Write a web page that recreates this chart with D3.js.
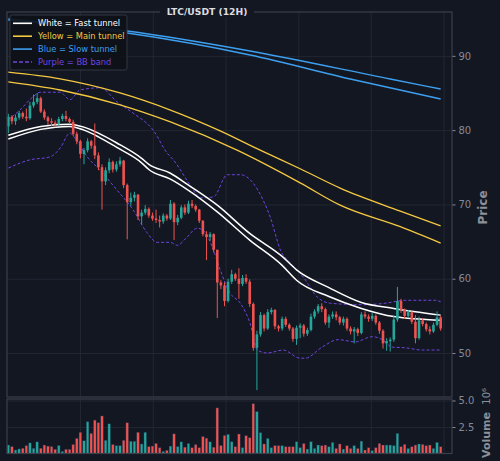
<!DOCTYPE html>
<html>
<head>
<meta charset="utf-8">
<script src="https://cdn.jsdelivr.net/npm/d3@7"></script>
<style>
  html, body { margin: 0; padding: 0; background: #131722; }
  svg { display: block; font-family: "DejaVu Sans", sans-serif; }
</style>
</head>
<body>
<svg id="chart"></svg>
<script>
// LTC/USDT 12H candles (open of each candle = previous close)
const firstOpen = 80.5;
const closes = [
  81.8, 81.2, 81.7, 82.3, 81.8, 81.6, 83.3, 83.8, 84.3, 82.5,
  81.7, 81.2, 81.0, 80.8, 81.5, 81.9, 81.5, 81.1, 79.5, 78.5,
  76.8, 77.3, 78.5, 77.9, 76.6, 75.0, 73.1, 74.6, 75.7, 74.7,
  75.4, 75.9, 72.6, 70.3, 70.9, 71.3, 68.4, 68.9, 69.4, 68.5,
  68.1, 67.9, 67.7, 68.5, 68.1, 70.1, 67.6, 68.2, 69.6, 68.9,
  70.1, 69.8, 69.3, 67.8, 66.0, 65.6, 66.0, 63.9, 59.5, 59.1,
  57.0, 59.6, 60.6, 60.0, 59.3, 60.1, 59.6, 56.6, 50.7, 52.5,
  55.1, 53.3, 55.5, 55.8, 53.6, 53.3, 54.6, 53.8, 53.3, 51.9,
  53.4, 53.7, 52.6, 53.1, 54.9, 55.6, 56.3, 55.9, 54.1, 54.9,
  55.2, 54.8, 54.1, 54.6, 53.3, 52.9, 53.2, 52.7, 55.2, 54.9,
  54.6, 55.0, 54.1, 53.0, 51.3, 51.6, 51.8, 54.5, 57.0, 55.8,
  55.0, 55.5, 54.2, 52.0, 54.4, 53.9, 53.2, 52.9, 53.8, 54.8,
  53.3
];
const highs = [
  82.2, 82.0, 82.1, 82.6, 82.5, 82.9, 83.8, 84.8, 85.0, 84.5,
  82.8, 81.9, 81.6, 81.3, 81.8, 82.2, 82.6, 81.7, 81.4, 79.8,
  78.7, 77.6, 78.9, 78.7, 80.9, 77.0, 75.4, 75.0, 76.2, 75.9,
  75.8, 76.4, 76.0, 72.8, 71.6, 71.7, 71.4, 69.3, 69.9, 69.6,
  68.9, 69.3, 68.5, 68.8, 68.7, 70.6, 70.3, 68.6, 69.9, 70.0,
  70.5, 70.6, 70.0, 69.4, 67.9, 66.4, 66.3, 66.1, 63.9, 59.8,
  59.5, 60.0, 61.2, 60.8, 61.4, 60.5, 60.6, 59.9, 56.8, 53.0,
  55.5, 55.3, 55.9, 56.1, 55.9, 53.8, 54.9, 54.9, 54.0, 53.5,
  53.7, 54.0, 53.9, 53.4, 55.3, 55.9, 56.6, 56.7, 56.1, 55.2,
  55.6, 55.6, 55.0, 54.9, 54.8, 53.6, 53.5, 53.4, 55.5, 55.6,
  55.2, 55.4, 55.2, 54.3, 53.2, 52.0, 52.1, 55.0, 58.9, 57.3,
  56.0, 55.8, 55.7, 55.1, 54.9, 54.7, 54.1, 53.6, 54.1, 55.6,
  55.0
];
const lows = [
  79.6, 80.8, 80.7, 81.4, 81.5, 81.2, 81.4, 83.0, 83.5, 82.3,
  81.4, 80.7, 80.5, 80.4, 80.6, 81.2, 81.2, 80.8, 79.2, 78.1,
  76.2, 75.4, 77.0, 77.5, 76.1, 74.6, 69.3, 72.6, 74.2, 74.3,
  74.4, 75.1, 72.2, 65.3, 69.8, 70.4, 67.9, 67.3, 68.6, 68.2,
  67.8, 67.5, 66.9, 67.4, 67.8, 67.9, 65.2, 67.2, 68.0, 68.6,
  68.7, 69.5, 69.0, 67.5, 65.7, 62.5, 65.1, 63.5, 54.7, 58.6,
  56.3, 56.8, 59.3, 59.7, 57.3, 59.0, 59.3, 56.2, 50.3, 45.0,
  52.2, 52.9, 53.1, 55.2, 53.2, 52.9, 53.0, 53.5, 53.0, 51.5,
  51.1, 52.0, 52.2, 52.3, 52.9, 54.6, 55.3, 55.5, 53.8, 53.4,
  54.6, 54.4, 53.8, 53.7, 53.0, 52.5, 51.3, 52.3, 52.5, 54.6,
  54.2, 54.3, 53.8, 52.6, 50.6, 50.3, 50.2, 51.5, 54.2, 55.4,
  54.6, 54.7, 53.9, 51.3, 51.8, 53.6, 52.9, 52.5, 52.7, 53.6,
  53.0
];
// volume, millions
const volumes = [
  0.8, 0.65, 0.33, 0.43, 0.5, 0.74, 1.0, 0.5, 1.1, 0.5,
  0.8, 0.7, 0.65, 0.4, 0.75, 0.2, 0.4, 0.4, 0.85, 1.43,
  2.0, 1.2, 3.0, 1.9, 3.15, 2.9, 3.54, 1.25, 2.8, 0.85,
  0.74, 0.74, 1.25, 2.9, 1.15, 1.15, 2.0, 0.9, 2.0, 0.65,
  0.7, 0.95, 0.55, 0.2, 0.3, 0.7, 1.85, 0.65, 1.1, 0.6,
  0.95, 0.55, 0.85, 0.55, 1.6, 1.45, 1.1, 0.6, 4.3, 0.75,
  1.7, 1.81, 1.11, 0.64, 1.84, 0.55, 1.68, 1.49, 4.7, 3.96,
  1.96, 0.9, 1.43, 0.55, 0.74, 0.74, 0.74, 0.64, 0.64, 0.64,
  1.11, 0.55, 0.95, 0.42, 1.11, 0.48, 0.8, 0.74, 0.8, 0.64,
  1.05, 0.48, 0.9, 0.42, 0.74, 0.48, 0.74, 0.48, 1.17, 0.33,
  0.55, 0.27, 0.55, 0.95, 0.8, 0.8, 0.8, 0.74, 1.9, 0.64,
  0.87, 0.48, 0.64, 0.8, 0.9, 0.87, 0.74, 0.8, 0.48, 1.05,
  0.64
];

// tunnels and bands, sampled at candle index positions
const fastIdx   = [0, 9, 17, 21, 25, 30, 37, 39, 45, 50, 58, 67, 76, 80, 89, 98, 107, 120];
const fastUpper = [79.3, 80.5, 80.8, 80.4, 79.6, 78.3, 76.2, 75.4, 74.2, 72.6, 69.9, 66.1, 63.0, 61.2, 58.8, 56.8, 56.0, 55.1];
const fastLower = [78.8, 80.1, 80.5, 80.0, 79.1, 77.7, 75.6, 74.7, 73.4, 71.9, 69.0, 65.2, 61.8, 59.8, 57.6, 56.0, 54.9, 54.4];

const mainUpIdx  = [0, 14.4, 31, 45, 58.8, 69.9, 81, 92.1, 108.8, 120];
const mainUpper  = [87.8, 86.9, 85.0, 82.7, 79.9, 77.3, 74.8, 72.2, 69.1, 67.1];
const mainLowIdx = [0, 14.4, 31, 45, 63.5, 81, 92.1, 108.8, 120];
const mainLower  = [86.5, 85.4, 83.4, 81.1, 77.3, 72.9, 69.9, 67.0, 64.8];

const slowUpIdx  = [0, 33, 67.1, 106, 120];
const slowUpper  = [94.95, 93.34, 90.65, 86.88, 85.53];
const slowLowIdx = [0, 33, 67.1, 94.9, 120];
const slowLower  = [94.82, 93.07, 90.11, 86.88, 84.19];

const bbUpIdx = [0, 3.2, 6.9, 8.8, 14.4, 17.1, 19.9, 25.5, 30.2, 34.6, 40.2, 44.1, 45.8, 50.5, 53.3, 56.9,
  60.8, 64.4, 67.9, 70.7, 72.7, 75.5, 78.3, 81.9, 85.8, 89.4, 98.3, 104.6, 110.2, 118.5, 120];
const bbUpper = [81.4, 82.7, 84.5, 85.1, 85.1, 84.1, 85.4, 85.7, 83.8, 82.3, 80.0, 76.9, 76.0, 72.6, 70.9, 71.0,
  74.0, 74.0, 72.9, 70.6, 68.3, 63.9, 62.1, 60.2, 57.5, 56.7, 56.5, 56.7, 57.1, 57.1, 56.9];
const bbLowIdx = [0, 6, 11.6, 14.4, 17.1, 18.5, 21.9, 25.5, 30.2, 34.6, 38.5, 41.3, 44.9, 46.9, 49.6, 52.4, 54.1,
  56.9, 58.8, 61.5, 64.4, 67.1, 69.1, 71.9, 76.3, 81, 82.4, 87.1, 91.6, 96.3, 101, 103.8, 106.5, 110.2, 114.9, 120];
const bbLower = [74.9, 76.0, 76.4, 77.6, 79.6, 78.9, 76.4, 74.6, 71.9, 69.3, 66.2, 64.9, 64.9, 64.5, 65.6, 66.8, 66.5,
  63.9, 61.2, 58.1, 56.7, 54.0, 50.4, 50.0, 50.4, 49.3, 49.3, 50.8, 51.8, 51.5, 52.2, 51.8, 50.8, 50.7, 50.4, 50.4];

const priceTicks = [50, 60, 70, 80, 90];
const volumeTicks = [2.5, 5.0];
const gridIdx = [19.9, 40.1, 60.3, 80.5, 100.6, 120.8];

const legendItems = [
  {label: "White = Fast tunnel", color: "#ffffff", dash: null},
  {label: "Yellow = Main tunnel", color: "#f5c842", dash: null},
  {label: "Blue = Slow tunnel", color: "#3d9ff0", dash: null},
  {label: "Purple = BB band", color: "#6f44e0", dash: "4,2"}
];

// Chart dimensions
const width = 500;
const height = 461;
const left = 7, right = 452;
const mainTop = 12, mainBottom = 397;
const volTop = 399, volBottom = 453.5;

const bg = "#131722";
const upColor = "#26a69a";
const downColor = "#ef5350";
const frameColor = "#3a3f4b";
const tickColor = "#858a94";

const candles = closes.map((c, i) => ({
  i: i,
  open: i === 0 ? firstOpen : closes[i - 1],
  close: c,
  high: highs[i],
  low: lows[i],
  vol: volumes[i]
}));

const x = d3.scaleLinear([-0.37, 123.15], [left, right]);
const y = d3.scaleLinear([44.08, 95.9], [mainBottom, mainTop]);
const yv = d3.scaleLinear([0, 5.14], [volBottom, volTop]);

const svg = d3.select("#chart")
  .attr("width", width)
  .attr("height", height)
  .attr("viewBox", [0, 0, width, height]);

svg.append("rect").attr("width", width).attr("height", height).attr("fill", bg);

const defs = svg.append("defs");
defs.append("clipPath").attr("id", "clipMain")
  .append("rect").attr("x", left).attr("y", mainTop).attr("width", right - left).attr("height", mainBottom - mainTop);
defs.append("clipPath").attr("id", "clipVol")
  .append("rect").attr("x", left).attr("y", volTop).attr("width", right - left).attr("height", volBottom - volTop);

// Grid lines (vertical) in both panels
const gridStyle = g => g.call(g => g.select(".domain").remove())
  .call(g => g.selectAll(".tick line").attr("stroke", "#262b36").attr("stroke-width", 0.8));

svg.append("g")
  .attr("transform", `translate(0,${mainBottom})`)
  .call(d3.axisBottom(x).tickValues(gridIdx).tickSize(-(mainBottom - mainTop)).tickFormat(""))
  .call(gridStyle);

svg.append("g")
  .attr("transform", `translate(0,${volBottom})`)
  .call(d3.axisBottom(x).tickValues(gridIdx).tickSize(-(volBottom - volTop)).tickFormat(""))
  .call(gridStyle);

// Price axis on the right with horizontal grid
svg.append("g")
  .attr("transform", `translate(${left},0)`)
  .call(d3.axisRight(y).tickValues(priceTicks).tickSize(right - left).tickFormat(""))
  .call(gridStyle);

svg.append("g")
  .attr("transform", `translate(${right},0)`)
  .call(d3.axisRight(y).tickValues(priceTicks).tickSize(3.5).tickPadding(3))
  .call(g => g.select(".domain").remove())
  .call(g => g.selectAll(".tick line").attr("stroke", tickColor))
  .call(g => g.selectAll(".tick text").attr("fill", tickColor).attr("font-size", 10)
    .attr("font-family", "DejaVu Sans"));

// Volume axis
svg.append("g")
  .attr("transform", `translate(${left},0)`)
  .call(d3.axisRight(yv).tickValues(volumeTicks).tickSize(right - left).tickFormat(""))
  .call(gridStyle);

svg.append("g")
  .attr("transform", `translate(${right},0)`)
  .call(d3.axisRight(yv).tickValues(volumeTicks).tickSize(3.5).tickPadding(3).tickFormat(d3.format(".1f")))
  .call(g => g.select(".domain").remove())
  .call(g => g.selectAll(".tick line").attr("stroke", tickColor))
  .call(g => g.selectAll(".tick text").attr("fill", tickColor).attr("font-size", 10)
    .attr("font-family", "DejaVu Sans"));

// Lines
const main = svg.append("g").attr("clip-path", "url(#clipMain)");

const line = d3.line()
  .x(d => x(d[0]))
  .y(d => y(d[1]))
  .curve(d3.curveMonotoneX);

const drawLine = (idx, vals, color, w, dash) => {
  main.append("path")
    .attr("fill", "none")
    .attr("stroke", color)
    .attr("stroke-width", w)
    .attr("stroke-dasharray", dash)
    .attr("d", line(d3.zip(idx, vals)));
};

drawLine(bbUpIdx, bbUpper, "#6f44e0", 1, "3,2");
drawLine(bbLowIdx, bbLower, "#6f44e0", 1, "3,2");
drawLine(slowUpIdx, slowUpper, "#3d9ff0", 1.4, null);
drawLine(slowLowIdx, slowLower, "#3d9ff0", 1.4, null);
drawLine(mainUpIdx, mainUpper, "#f5c842", 1.3, null);
drawLine(mainLowIdx, mainLower, "#f5c842", 1.3, null);
drawLine(fastIdx, fastUpper, "#ffffff", 1.5, null);
drawLine(fastIdx, fastLower, "#ffffff", 1.5, null);

// Candles
const bodyW = 2.6;
const cg = main.append("g");
cg.selectAll("line.wick")
  .data(candles)
  .join("line")
  .attr("class", "wick")
  .attr("x1", d => x(d.i)).attr("x2", d => x(d.i))
  .attr("y1", d => y(d.high)).attr("y2", d => y(d.low))
  .attr("stroke", d => d.close >= d.open ? upColor : downColor)
  .attr("stroke-width", 1);

cg.selectAll("rect.body")
  .data(candles)
  .join("rect")
  .attr("class", "body")
  .attr("x", d => x(d.i) - bodyW / 2)
  .attr("width", bodyW)
  .attr("y", d => y(Math.max(d.open, d.close)))
  .attr("height", d => Math.max(1, Math.abs(y(d.open) - y(d.close))))
  .attr("fill", d => d.close >= d.open ? upColor : downColor);

// Volume bars
svg.append("g").attr("clip-path", "url(#clipVol)")
  .selectAll("rect")
  .data(candles)
  .join("rect")
  .attr("x", d => x(d.i) - bodyW / 2)
  .attr("width", bodyW)
  .attr("y", d => yv(d.vol))
  .attr("height", d => yv(0) - yv(d.vol))
  .attr("fill", d => d.close >= d.open ? upColor : downColor)
  .attr("stroke", "#1d3350")
  .attr("stroke-width", 0.4);

// Panel frames
svg.append("rect")
  .attr("x", left).attr("y", mainTop)
  .attr("width", right - left).attr("height", mainBottom - mainTop)
  .attr("fill", "none").attr("stroke", frameColor).attr("stroke-width", 1.2);
svg.append("rect")
  .attr("x", left).attr("y", volTop)
  .attr("width", right - left).attr("height", volBottom - volTop)
  .attr("fill", "none").attr("stroke", frameColor).attr("stroke-width", 1.2);

// Title with a background patch over the frame
svg.append("rect")
  .attr("x", 160).attr("y", 5).attr("width", 94).attr("height", 12)
  .attr("fill", bg);
svg.append("text")
  .attr("x", 207).attr("y", 15)
  .attr("text-anchor", "middle")
  .attr("fill", "#dcdde0")
  .attr("font-size", 9.2)
  .attr("font-weight", "bold")
  .text("LTC/USDT (12H)");

// Axis labels
svg.append("text")
  .attr("transform", `translate(487,${(mainTop + mainBottom) / 2 + 3}) rotate(-90)`)
  .attr("text-anchor", "middle")
  .attr("fill", "#8c9099")
  .attr("font-size", 12)
  .attr("font-weight", "bold")
  .text("Price");

svg.append("text")
  .attr("transform", "translate(489.5,412) rotate(-90)")
  .attr("text-anchor", "end")
  .attr("fill", "#8c9099")
  .attr("font-size", 11)
  .attr("font-weight", "bold")
  .text("Volume");

svg.append("text")
  .attr("transform", "translate(489.5,388) rotate(-90)")
  .attr("text-anchor", "end")
  .attr("fill", "#8c9099")
  .attr("font-size", 10)
  .text("10⁶");

// Legend
const legend = svg.append("g");
legend.append("rect")
  .attr("x", 10).attr("y", 15).attr("width", 117).attr("height", 55)
  .attr("rx", 2)
  .attr("fill", "#0e1118").attr("fill-opacity", 0.92)
  .attr("stroke", "#3a3f4b").attr("stroke-width", 0.8);

const rows = legend.selectAll("g.row")
  .data(legendItems)
  .join("g")
  .attr("class", "row")
  .attr("transform", (d, i) => `translate(0,${23.3 + i * 12.9})`);

rows.append("line")
  .attr("x1", 13).attr("x2", 32)
  .attr("stroke", d => d.color)
  .attr("stroke-width", 1.6)
  .attr("stroke-dasharray", d => d.dash);

rows.append("text")
  .attr("x", 38).attr("y", 3)
  .attr("fill", d => d.color)
  .attr("font-size", 8.3)
  .text(d => d.label);
</script>
</body>
</html>
